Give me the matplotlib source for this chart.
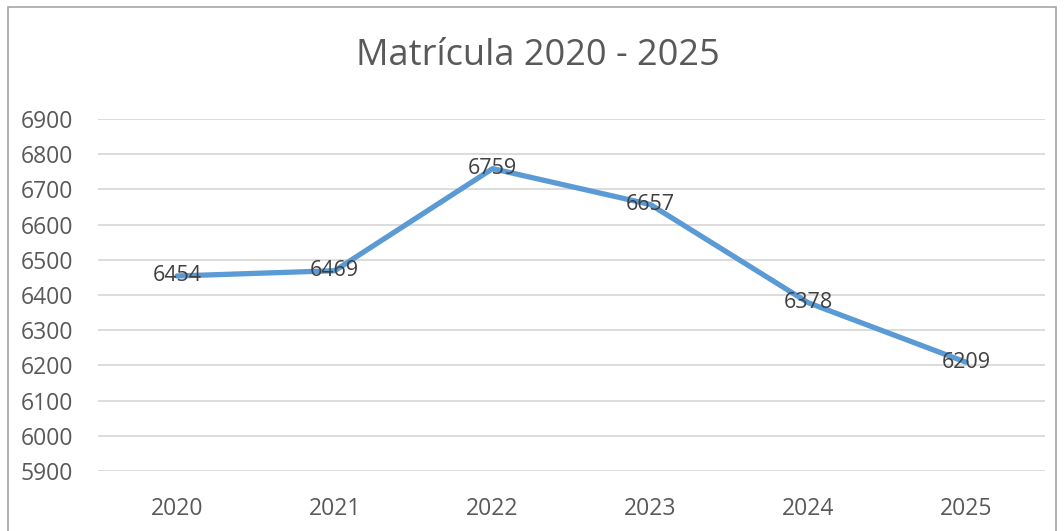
import matplotlib
matplotlib.use("Agg")
import matplotlib.pyplot as plt
from matplotlib.patches import Rectangle

years = ["2020", "2021", "2022", "2023", "2024", "2025"]
enrollment = [6454, 6469, 6759, 6657, 6378, 6209]
y_ticks = [5900, 6000, 6100, 6200, 6300, 6400, 6500, 6600, 6700, 6800, 6900]
title = "Matrícula 2020 - 2025"

plt.rcParams['font.family'] = ['Open Sans', 'DejaVu Sans']

fig = plt.figure(figsize=(10.64, 5.31), dpi=100)
fig.patch.set_facecolor('white')

# chart frame
fig.add_artist(Rectangle((8/1064, -0.05), (1056-8)/1064, 1.05 - 7/531,
                         transform=fig.transFigure, fill=False,
                         edgecolor='#A6A6A6', linewidth=1.2))

ax = fig.add_axes([98/1064, 60/531, 947/1064, 352/531])
x = list(range(len(years)))
ax.plot(x, enrollment, color='#5B9BD5', linewidth=3.8, solid_capstyle='round', zorder=3)
for xi, v in zip(x, enrollment):
    ax.text(xi, v, str(v), ha='center', va='center', fontsize=15.5,
            color='#404040', zorder=4)

ax.set_xlim(-0.5, len(years) - 0.5)
ax.set_ylim(5900, 6900)
ax.set_yticks(y_ticks)
ax.set_xticks(x)
ax.set_xticklabels(years)
ax.tick_params(axis='both', length=0, labelsize=16.5, labelcolor='#595959')
ax.tick_params(axis='x', pad=19)
ax.tick_params(axis='y', pad=18)
ax.grid(axis='y', color='#D9D9D9', linewidth=1.3)
ax.set_axisbelow(True)
for s in ax.spines.values():
    s.set_visible(False)

fig.text(538/1064, 1 - 56/531, title, ha='center', va='center',
         fontsize=26, color='#595959')

fig.savefig('out.png', dpi=100, facecolor='white')
